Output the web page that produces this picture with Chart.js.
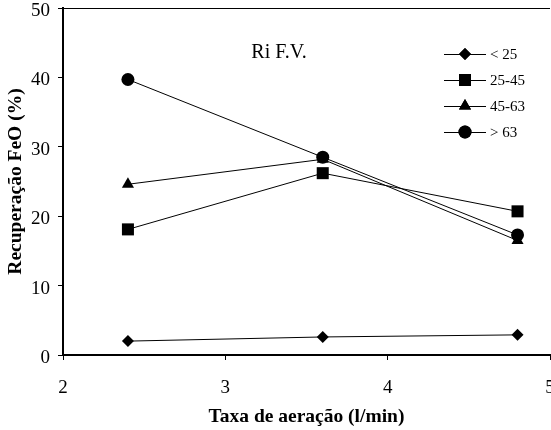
<!DOCTYPE html>
<html>
<head>
<meta charset="utf-8">
<script src="https://cdn.jsdelivr.net/npm/chart.js@4"></script>
<style>
  html, body { margin: 0; padding: 0; background: #fff; }
  #wrap { width: 551px; height: 430px; }
</style>
</head>
<body>
<div id="wrap"><canvas id="chart" width="551" height="430"></canvas></div>
<script>
// aeration rate (l/min)
const taxa = [2.4, 3.6, 4.8];

const labels = ['< 25', '25-45', '45-63', '> 63'];
const menor25 = [2.0, 2.6, 2.9];
const f25a45  = [18.1, 26.2, 20.7];
const f45a63  = [24.6, 28.2, 16.5];
const maior63 = [39.7, 28.5, 17.3];

const xTicks = [2, 3, 4, 5];
const yTicks = [0, 10, 20, 30, 40, 50];

const serif = "'Liberation Serif', 'Times New Roman', serif";

const styles = [
  { pointStyle: 'rectRot',  radius: 6 },
  { pointStyle: 'rect',     radius: 8.5 },
  { pointStyle: 'triangle', radius: 7 },
  { pointStyle: 'circle',   radius: 6.5 }
];

const series = [menor25, f25a45, f45a63, maior63];

const datasets = series.map((vals, i) => ({
  label: labels[i],
  data: vals.map((v, j) => ({ x: taxa[j], y: v })),
  borderColor: '#000',
  borderWidth: 1,
  backgroundColor: '#000',
  pointBackgroundColor: '#000',
  pointBorderColor: '#000',
  pointBorderWidth: 0,
  pointStyle: styles[i].pointStyle,
  pointRadius: styles[i].radius,
  pointHoverRadius: styles[i].radius,
  tension: 0
}));

// top frame line, "Ri F.V." label and the legend with a line through the marker
const extras = {
  id: 'extras',
  afterDraw(chart) {
    const ctx = chart.ctx;
    const a = chart.chartArea;
    ctx.save();
    ctx.strokeStyle = '#000';
    ctx.lineWidth = 1;
    ctx.beginPath();
    ctx.moveTo(a.left, a.top + 0.5);
    ctx.lineTo(a.right, a.top + 0.5);
    ctx.stroke();

    ctx.fillStyle = '#000';
    ctx.font = '20px ' + serif;
    ctx.textAlign = 'center';
    ctx.textBaseline = 'middle';
    ctx.fillText('Ri F.V.', 279, 53);

    const rowsY = [54, 80, 106, 132];
    chart.data.datasets.forEach((ds, i) => {
      const y = rowsY[i];
      ctx.strokeStyle = '#000';
      ctx.lineWidth = 1;
      ctx.beginPath();
      ctx.moveTo(444, y + 0.5);
      ctx.lineTo(486, y + 0.5);
      ctx.stroke();
      ctx.fillStyle = '#000';
      Chart.helpers.drawPoint(ctx, {
        pointStyle: ds.pointStyle,
        radius: ds.pointRadius,
        borderWidth: 0,
        rotation: 0
      }, 465, y);
      ctx.fill();
      ctx.font = '15px ' + serif;
      ctx.textAlign = 'left';
      ctx.fillText(ds.label, 490, y + 1);
    });
    ctx.restore();
  }
};

// drop the space Chart.js keeps for half of the end tick labels
const noPad = s => { s.paddingTop = 0; s.paddingRight = 0; s.paddingLeft = 0; s.paddingBottom = 0; };

new Chart(document.getElementById('chart'), {
  type: 'line',
  data: { datasets },
  plugins: [extras],
  options: {
    responsive: false,
    animation: false,
    layout: { autoPadding: false, padding: { top: 8, right: 1, left: 0, bottom: 0 } },
    plugins: { legend: { display: false }, tooltip: { enabled: false } },
    scales: {
      x: {
        type: 'linear',
        min: 2, max: 5,
        afterBuildTicks: s => { s.ticks = xTicks.map(v => ({ value: v })); },
        afterFit: s => { s.height = 75; noPad(s); },
        border: { color: '#000', width: 2 },
        grid: { display: true, drawOnChartArea: false, color: '#000', tickLength: 5, lineWidth: 1 },
        ticks: { color: '#000', padding: 17, font: { family: serif, size: 19 } },
        title: {
          display: true,
          text: 'Taxa de aeração (l/min)',
          color: '#000',
          padding: { top: 0, bottom: 1 },
          font: { family: serif, size: 19.5, weight: 'bold' }
        }
      },
      y: {
        min: 0, max: 50,
        afterBuildTicks: s => { s.ticks = yTicks.map(v => ({ value: v })); },
        afterFit: s => { s.width = 63; noPad(s); },
        border: { color: '#000', width: 2 },
        grid: { display: true, drawOnChartArea: false, color: '#000', tickLength: 5, lineWidth: 1 },
        ticks: { color: '#000', padding: 8, labelOffset: 3, font: { family: serif, size: 19 } },
        title: {
          display: true,
          text: 'Recuperação FeO (%)',
          color: '#000',
          padding: { top: 4, bottom: 0 },
          font: { family: serif, size: 19.5, weight: 'bold' }
        }
      }
    }
  }
});
</script>
</body>
</html>
